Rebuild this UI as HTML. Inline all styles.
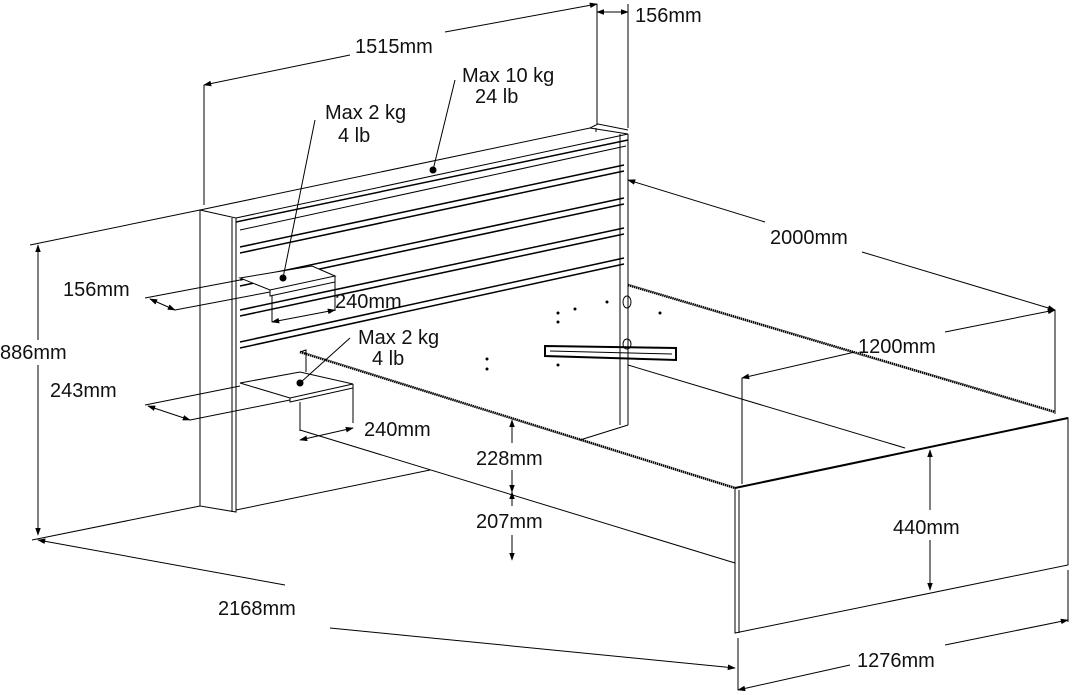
<!DOCTYPE html>
<html><head><meta charset="utf-8"><style>
html,body{margin:0;padding:0;background:#fff;}
svg{display:block;}
text{font-family:"Liberation Sans",Arial,sans-serif;font-size:20px;fill:#111;}
</style></head><body>
<svg width="1076" height="695" viewBox="0 0 1076 695" xmlns="http://www.w3.org/2000/svg">
<defs>
<marker id="a" viewBox="0 0 10 10" refX="9" refY="5" markerWidth="8" markerHeight="8" orient="auto-start-reverse"><path d="M0,1.5 L10,5 L0,8.5z" fill="#000"/></marker>
</defs>
<g stroke="#000" fill="none" stroke-width="1">
<path d="M200,210 L236,218 L236,512 L200,506 Z" fill="#fff"/>
<path d="M200,210 L590,128 L628,134 L236,218"/>
<line x1="232" y1="218" x2="232" y2="512"/>
<path d="M236,222 L628,140" stroke-width="1.5"/>
<path d="M240,230 L626,146"/>
<g stroke-width="1.5">
<path d="M240,247 L624,165 M240,253 L624,171"/>
<path d="M240,280 L624,198 M240,286 L624,204"/>
<path d="M240,310 L624,228 M240,316 L624,234"/>
<path d="M240,342 L624,258 M240,348 L624,264"/>
</g>
<path d="M620,134 L620,425 M628,134 L628,425 M596,128 L596,132"/>
<path d="M590,128 L598,124 L628,130"/>
<path d="M240,278 L312,266 L335,276 L270,290 Z" fill="#fff"/>
<path d="M270,290 L270,296 L335,282 L335,276"/>
<path d="M272,296 L272,322 M335,282 L335,311"/>
<path d="M240,383 L300,372 L353,384 L290,398 Z" fill="#fff"/>
<path d="M290,398 L290,402 L353,388 L353,384"/>
<path d="M300,402 L300,431 M353,388 L353,423"/>
<path d="M300,352 L306,350 L306,372"/>
<path d="M300,352 L735,488" stroke-width="2.5" stroke-dasharray="1.5 0.6"/>
<path d="M628,285 L1055,412" stroke-width="2.5" stroke-dasharray="1.5 0.6"/>
<path d="M628,285 L628,425"/>
<path d="M628,365 L905,448"/>
<path d="M300,430 L735,563"/>
<path d="M580,440 L628,425"/>
<path d="M236,510 L430,470"/>
<path d="M735,488 L1068,418 L1068,565 L735,633 Z" fill="#fff"/>
<path d="M735,488 L1068,418" stroke-width="2"/>
<path d="M739,490 L739,633"/>
<path d="M742,378 L742,484"/>
<path d="M1055,310 L1055,414"/>
<path d="M545,346 L676,348 L676,360 L545,356 Z" stroke-width="2"/>
<path d="M550,351 L672,354"/>
<ellipse cx="627" cy="302" rx="4" ry="6"/>
<ellipse cx="627" cy="344" rx="4" ry="5"/>
<line x1="204" y1="85" x2="204" y2="205"/>
<line x1="597" y1="4" x2="597" y2="124"/>
<line x1="628" y1="4" x2="628" y2="128"/>
<line x1="204" y1="85" x2="350" y2="55" marker-start="url(#a)"/>
<line x1="445" y1="32" x2="597" y2="4" marker-end="url(#a)"/>
<line x1="612" y1="12" x2="628" y2="12" marker-end="url(#a)"/>
<line x1="612" y1="12" x2="597" y2="12" marker-end="url(#a)"/>
<line x1="628" y1="180" x2="765" y2="222" marker-start="url(#a)"/>
<line x1="862" y1="252" x2="1055" y2="310" marker-end="url(#a)"/>
<line x1="742" y1="378" x2="855" y2="352" marker-start="url(#a)"/>
<line x1="945" y1="332" x2="1055" y2="310" marker-end="url(#a)"/>
<line x1="38" y1="245" x2="38" y2="340" marker-start="url(#a)"/>
<line x1="38" y1="365" x2="38" y2="535" marker-end="url(#a)"/>
<line x1="30" y1="245" x2="200" y2="210"/>
<line x1="32" y1="540" x2="200" y2="506"/>
<line x1="38" y1="540" x2="285" y2="585" marker-start="url(#a)"/>
<line x1="330" y1="628" x2="735" y2="668" marker-end="url(#a)"/>
<line x1="738" y1="638" x2="738" y2="690"/>
<line x1="1068" y1="570" x2="1068" y2="622"/>
<line x1="738" y1="690" x2="850" y2="665" marker-start="url(#a)"/>
<line x1="945" y1="645" x2="1068" y2="620" marker-end="url(#a)"/>
<line x1="930" y1="450" x2="930" y2="510" marker-start="url(#a)"/>
<line x1="930" y1="540" x2="930" y2="590" marker-end="url(#a)"/>
<line x1="512" y1="420" x2="512" y2="443" marker-start="url(#a)"/>
<line x1="512" y1="470" x2="512" y2="492" marker-end="url(#a)"/>
<line x1="512" y1="492" x2="512" y2="506" marker-start="url(#a)"/>
<line x1="512" y1="535" x2="512" y2="560" marker-end="url(#a)"/>
<line x1="145" y1="298" x2="240" y2="280"/>
<line x1="175" y1="310" x2="270" y2="292"/>
<line x1="150" y1="299" x2="175" y2="310" marker-start="url(#a)" marker-end="url(#a)"/>
<line x1="272" y1="322" x2="335" y2="310" marker-start="url(#a)" marker-end="url(#a)"/>
<line x1="145" y1="405" x2="240" y2="386"/>
<line x1="190" y1="420" x2="290" y2="400"/>
<line x1="148" y1="406" x2="190" y2="420" marker-start="url(#a)" marker-end="url(#a)"/>
<line x1="300" y1="440" x2="353" y2="428" marker-start="url(#a)" marker-end="url(#a)"/>
<line x1="433" y1="170" x2="455" y2="80"/>
<line x1="283" y1="278" x2="315" y2="120"/>
<line x1="300" y1="383" x2="350" y2="338"/>
</g>
<g fill="#000">
<circle cx="433" cy="170" r="3.5"/><circle cx="283" cy="278" r="3.5"/><circle cx="300" cy="383" r="3.5"/>
<circle cx="558" cy="313" r="1.5"/><circle cx="558" cy="322" r="1.5"/><circle cx="575" cy="309" r="1.5"/><circle cx="607" cy="302" r="1.5"/><circle cx="660" cy="313" r="1.5"/><circle cx="487" cy="359" r="1.5"/><circle cx="487" cy="369" r="1.5"/><circle cx="558" cy="365" r="1.5"/>
</g>
<text x="355" y="53">1515mm</text>
<text x="635" y="22">156mm</text>
<text x="462" y="82">Max 10 kg</text>
<text x="475" y="103">24 lb</text>
<text x="325" y="119">Max 2 kg</text>
<text x="338" y="142">4 lb</text>
<text x="770" y="244">2000mm</text>
<text x="858" y="353">1200mm</text>
<text x="63" y="296">156mm</text>
<text x="335" y="308">240mm</text>
<text x="358" y="344">Max 2 kg</text>
<text x="372" y="365">4 lb</text>
<text x="0" y="359">886mm</text>
<text x="50" y="397">243mm</text>
<text x="364" y="436">240mm</text>
<text x="476" y="465">228mm</text>
<text x="476" y="528">207mm</text>
<text x="893" y="534">440mm</text>
<text x="218" y="615">2168mm</text>
<text x="857" y="667">1276mm</text>
</svg>
</body></html>
